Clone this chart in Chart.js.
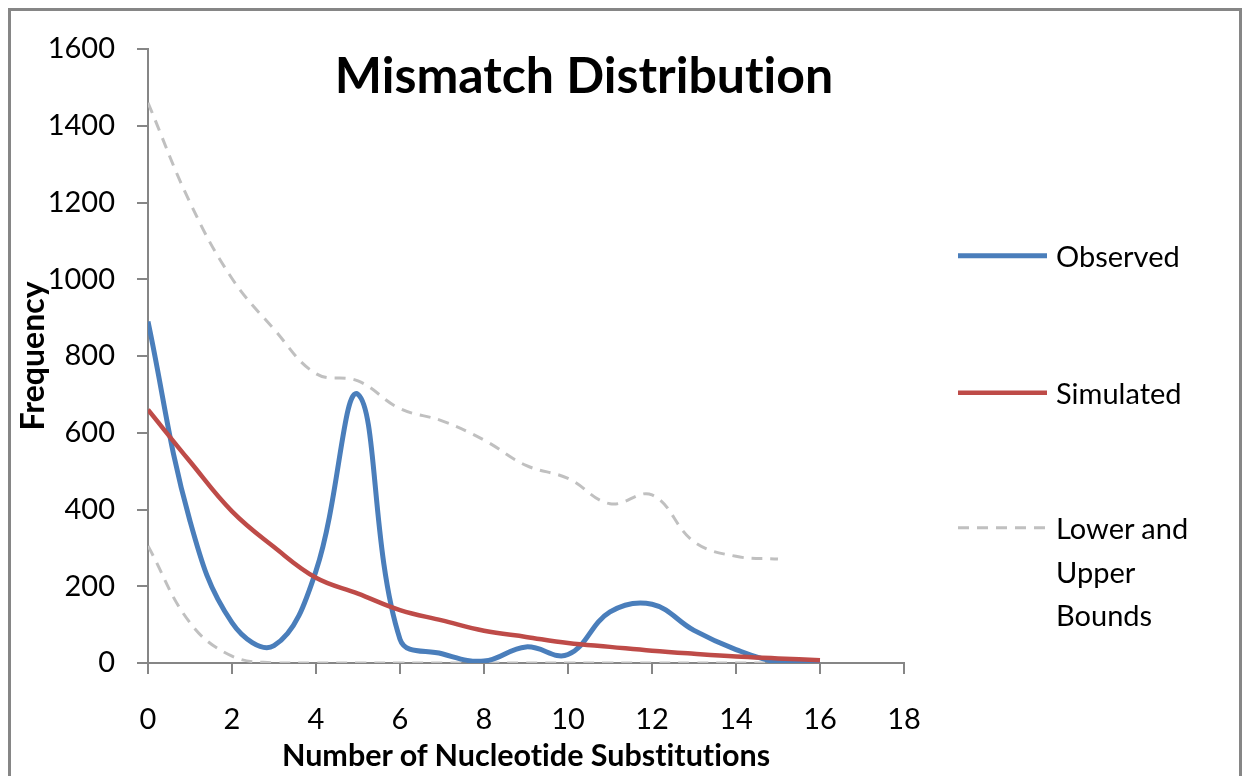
<!DOCTYPE html>
<html>
<head>
<meta charset="utf-8">
<script src="https://cdn.jsdelivr.net/npm/chart.js@4.4.1/dist/chart.umd.min.js"></script>
<style>
  html, body { margin: 0; padding: 0; background: #ffffff; }
  #wrap { position: relative; width: 1243px; height: 776px; overflow: hidden; background: #fff; }
  #c { position: absolute; left: 0; top: 0; font-variant-ligatures: none; }
  #frame { position: absolute; left: 8px; top: 8px; width: 1228px; height: 800px; border: 3px solid #868686; pointer-events: none; }
  #legend { position: absolute; left: 0; top: 0; width: 1243px; height: 776px; pointer-events: none; font-family: Lato, "Open Sans", sans-serif; font-size: 29px; color: #000; font-variant-ligatures: none; }
  .li { position: absolute; left: 958px; }
  .li svg { position: absolute; left: 0; top: 0; }
  .li .tx { position: absolute; left: 98px; top: 0; width: 150px; line-height: 43.5px; white-space: normal; }
</style>
</head>
<body>
<div id="wrap">
  <canvas id="c" width="1243" height="776"></canvas>
  <div id="legend"></div>
  <div id="frame"></div>
</div>
<script>
// ---- data ----
const chartTitle = "Mismatch Distribution";
const xAxisTitle = "Number of Nucleotide Substitutions";
const yAxisTitle = "Frequency";
const substitutions = [0, 1, 2, 3, 4, 5, 6, 7, 8, 9, 10, 11, 12, 13, 14, 15, 16];
const observed  = [890, 370, 105, 45, 240, 700, 62, 24, 5, 42, 22, 133, 153, 85, 35, 2, 0];
const simulated = [660, 525, 395, 302, 222, 181, 138, 111, 84, 68, 52, 42, 32, 24, 17, 12, 7];
const boundX     = [0, 1, 2, 3, 4, 5, 6, 7, 8, 9, 10, 11, 12, 13, 14, 15];
const lowerBound = [305, 105, 18, 0, 0, 0, 0, 0, 0, 0, 0, 0, 0, 0, 0, 0];
const upperBound = [1460, 1200, 1002, 870, 754, 735, 663, 631, 581, 515, 481, 415, 438, 316, 278, 271];
const xTicks = [0, 2, 4, 6, 8, 10, 12, 14, 16, 18];
const yTicks = [0, 200, 400, 600, 800, 1000, 1200, 1400, 1600];
const seriesNames = ["Observed", "Simulated", "Lower and Upper Bounds"];

// ---- styles ----
const BLUE = "#4a7ebb", RED = "#be4b48", GRAY = "#c0c0c0", AXIS = "#868686";
const FONT = "Lato, 'Open Sans', sans-serif";

function pts(xs, ys) { return xs.map((x, i) => ({ x: x, y: ys[i] })); }

function noLigatures(ctx) {
  try { ctx.textRendering = "optimizeSpeed"; } catch (e) {}
  try { ctx.fontKerning = "normal"; } catch (e) {}
}

const titlePlugin = {
  id: "customTitle",
  beforeDraw(chart) { noLigatures(chart.ctx); },
  afterDraw(chart) {
    const ctx = chart.ctx;
    ctx.save();
    noLigatures(ctx);
    ctx.font = "bold 50px " + FONT;
    ctx.fillStyle = "#000";
    ctx.textAlign = "center";
    ctx.textBaseline = "alphabetic";
    ctx.fillText(chartTitle, 584, 93);
    ctx.restore();
  }
};

function build() {
  const chart = new Chart(document.getElementById("c"), {
    type: "line",
    data: {
      datasets: [
        { label: seriesNames[0], data: pts(substitutions, observed), borderColor: BLUE, borderWidth: 5, tension: 0.4, pointRadius: 0, fill: false, order: 1 },
        { label: seriesNames[1], data: pts(substitutions, simulated), borderColor: RED, borderWidth: 4.5, tension: 0.4, pointRadius: 0, fill: false, order: 0 },
        { label: seriesNames[2], data: pts(boundX, lowerBound), borderColor: GRAY, borderWidth: 3, borderDash: [11, 8], tension: 0.4, pointRadius: 0, fill: false, order: 2 },
        { label: seriesNames[2], data: pts(boundX, upperBound), borderColor: GRAY, borderWidth: 3, borderDash: [11, 8], tension: 0.4, pointRadius: 0, fill: false, order: 2 }
      ]
    },
    options: {
      responsive: false,
      animation: false,
      events: [],
      layout: { padding: { left: 0, right: 339, top: 49, bottom: 0 }, autoPadding: false },
      plugins: { legend: { display: false }, title: { display: false }, tooltip: { enabled: false } },
      scales: {
        x: {
          type: "linear",
          min: xTicks[0], max: xTicks[xTicks.length - 1],
          afterBuildTicks(scale) { scale.ticks = xTicks.map(v => ({ value: v })); },
          afterFit(scale) { scale.height = 113; },
          ticks: { font: { family: FONT, size: 29 }, color: "#000", padding: 28, maxRotation: 0, autoSkip: false, callback: v => String(v) },
          grid: { display: true, drawOnChartArea: false, drawTicks: true, tickLength: 11, color: AXIS, lineWidth: 2 },
          border: { display: true, color: AXIS, width: 2 },
          title: { display: true, text: xAxisTitle, font: { family: FONT, size: 30.5, weight: "bold" }, color: "#000", padding: { top: 0, bottom: 2 } }
        },
        y: {
          type: "linear",
          min: yTicks[0], max: yTicks[yTicks.length - 1],
          afterBuildTicks(scale) { scale.ticks = yTicks.map(v => ({ value: v })); },
          afterFit(scale) { scale.width = 148; },
          ticks: { font: { family: FONT, size: 29 }, color: "#000", padding: 22, autoSkip: false, callback: v => String(v) },
          grid: { display: true, drawOnChartArea: false, drawTicks: true, tickLength: 11, color: AXIS, lineWidth: 2 },
          border: { display: true, color: AXIS, width: 2 },
          title: { display: true, text: yAxisTitle, font: { family: FONT, size: 32, weight: "bold" }, color: "#000", padding: { top: 14, bottom: 0 } }
        }
      }
    },
    plugins: [titlePlugin]
  });

  // HTML legend built from the datasets
  const legend = document.getElementById("legend");
  const tops = [256, 393, 528];
  const seen = [];
  chart.data.datasets.forEach(ds => {
    if (seen.indexOf(ds.label) >= 0) return;
    const idx = seen.length;
    seen.push(ds.label);
    const item = document.createElement("div");
    item.className = "li";
    item.style.top = (tops[idx] - 21.75) + "px";
    const svgNS = "http://www.w3.org/2000/svg";
    const svg = document.createElementNS(svgNS, "svg");
    svg.setAttribute("width", "92"); svg.setAttribute("height", "44");
    const ln = document.createElementNS(svgNS, "line");
    ln.setAttribute("x1", "0"); ln.setAttribute("x2", "89");
    ln.setAttribute("y1", "21.75"); ln.setAttribute("y2", "21.75");
    ln.setAttribute("stroke", ds.borderColor);
    ln.setAttribute("stroke-width", ds.borderWidth);
    if (ds.borderDash) ln.setAttribute("stroke-dasharray", ds.borderDash.join(" "));
    svg.appendChild(ln);
    item.appendChild(svg);
    const tx = document.createElement("div");
    tx.className = "tx";
    tx.textContent = ds.label;
    item.appendChild(tx);
    legend.appendChild(item);
  });
}

if (document.fonts && document.fonts.load) {
  Promise.all([document.fonts.load("29px Lato"), document.fonts.load("bold 29px Lato")]).then(build, build);
} else { build(); }
</script>
</body>
</html>
